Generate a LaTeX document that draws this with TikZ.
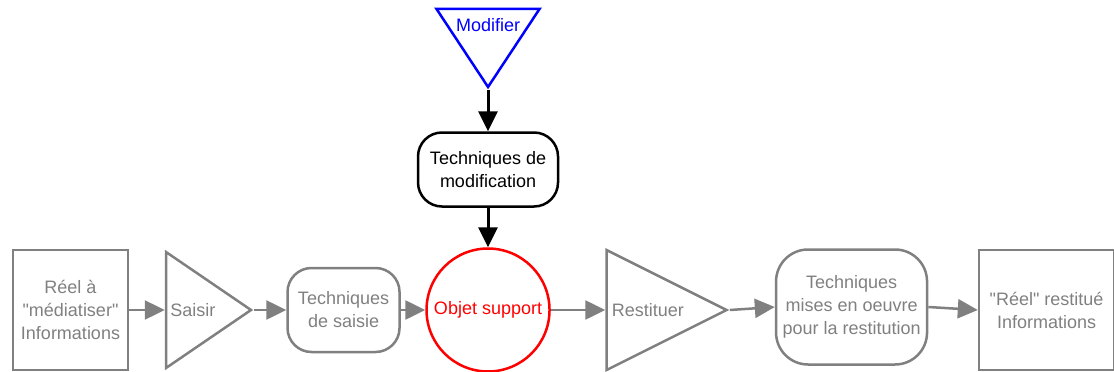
\documentclass[tikz,border=0pt]{standalone}
\usepackage{fontspec}
\setmainfont{Liberation Sans}[Ligatures=TeXOff]
\usepackage{xcolor}
\usepackage{tikz}
\usetikzlibrary{shapes.geometric, arrows.meta, positioning}
\definecolor{gris}{RGB}{128,128,128}

\begin{document}
\begin{tikzpicture}[x=1pt, y=-1pt,
        every node/.style={font=\fontsize{18}{23}\selectfont},
        cadre/.style={draw=gris, line width=2.5pt, text=gris, align=center},
        technique/.style={draw=gris, line width=2.5pt, text=gris, align=center, rounded corners=24pt},
        etape/.style={isosceles triangle, isosceles triangle stretches, draw=gris, line width=2.5pt, inner sep=0pt},
        fleche/.style={-{Triangle[length=20pt, width=19pt]}, line width=2.5pt, gris}
    ]
    \useasboundingbox (0,0) rectangle (1114,372);

    % Chaine saisie -> objet -> restitution
    \node[cadre, minimum width=115pt, minimum height=120pt] (reel) at (70.5,310) {Réel à\\"médiatiser"\\Informations};
    \node[etape, minimum width=116pt, minimum height=85pt, right=35.5pt of reel] (saisir) {};
    \node[text=gris, anchor=west] (saisirtexte) at ([xshift=2pt]saisir.west) {Saisir};
    \node[technique, minimum width=112pt, minimum height=84pt, right=32pt of saisir] (saisie) {Techniques\\de saisie};
    \node[circle, draw=red, line width=2.5pt, text=red, minimum size=123pt, inner sep=0pt, right=24.5pt of saisie] (objet) {Objet support};
    \node[etape, minimum width=120pt, minimum height=120pt, right=54.5pt of objet] (restituer) {};
    \node[text=gris, anchor=west] (restituertexte) at ([xshift=3pt]restituer.west) {Restituer};
    \node[technique, rounded corners=32pt, minimum width=151pt, minimum height=115pt, right=45pt of restituer, yshift=3pt] (restitution) {Techniques\\mises en oeuvre\\pour la restitution};
    \node[cadre, minimum width=135pt, minimum height=120pt, right=49.5pt of restitution, yshift=-3pt] (restitue) {"Réel" restitué\\Informations};

    % Branche de modification
    \node[draw, line width=2.5pt, align=center, rounded corners=24pt, minimum width=140pt, minimum height=74pt, above=39.5pt of objet] (modification) {Techniques de\\modification};
    \node[isosceles triangle, isosceles triangle stretches, shape border rotate=270, draw=blue, line width=2.5pt, inner sep=0pt, minimum width=103pt, minimum height=78pt, above=41pt of modification] (modifier) {};
    \node[text=blue] (modifiertexte) at ([yshift=-17pt]modifier.north) {Modifier};

    \draw[fleche] (reel.east) -- (saisir.west);
    \draw[fleche] (saisir.apex) -- (saisie.west);
    \draw[fleche] (saisie.east) -- (objet.west);
    \draw[fleche] (objet.east) -- (restituer.west);
    \draw[fleche] (restituer.apex) -- (restitution.west);
    \draw[fleche] (restitution.east) -- (restitue.west);
    \draw[fleche, black, line width=3pt] (modifier.apex) -- (modification.north);
    \draw[fleche, black, line width=3pt] (modification.south) -- (objet.north);
\end{tikzpicture}
\end{document}
